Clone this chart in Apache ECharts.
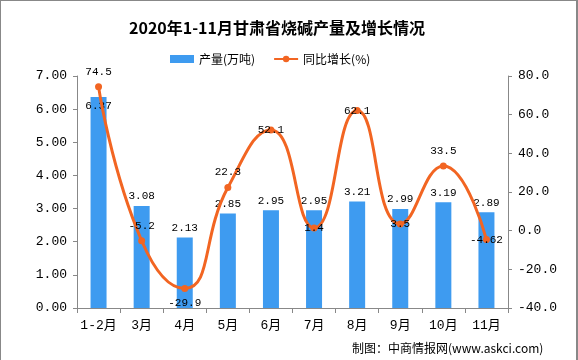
<!DOCTYPE html>
<html><head><meta charset="utf-8">
<script src="https://cdn.jsdelivr.net/npm/echarts@6/dist/echarts.min.js"></script>
<style>
html,body{margin:0;padding:0;background:#fff;}
#c{width:578px;height:360px;box-sizing:border-box;border-left:1px solid #888;border-top:1px solid #888;border-right:2px solid #888;}
</style></head>
<body><div id="c"></div>
<script>
const categories = ['1-2月','3月','4月','5月','6月','7月','8月','9月','10月','11月'];
const output = [6.37, 3.08, 2.13, 2.85, 2.95, 2.95, 3.21, 2.99, 3.19, 2.89];
const growth = [74.5, -5.2, -29.9, 22.3, 52.1, 1.4, 62.1, 3.5, 33.5, -4.62];
const growthLabelPos = ['top','top','bottom','top','inside','inside','inside','inside','top','inside'];
const outputLabelPos = ['insideTop','top','top','top','top','top','top','top','top','top'];

const mono = '"Liberation Mono", "Noto Sans CJK SC", monospace';
const chart = echarts.init(document.getElementById('c'));
chart.setOption({
  animation: false,
  title: {
    text: '2020年1-11月甘肃省烧碱产量及增长情况',
    left: 123, top: 14,
    textStyle: {fontFamily: '"Noto Sans CJK SC"', fontWeight: 'bold', fontSize: 16, color: '#000'}
  },
  legend: {
    top: 47, left: 164,
    itemGap: 18,
    itemWidth: 24, itemHeight: 8,
    textStyle: {fontFamily: '"Noto Sans CJK SC"', fontSize: 12, color: '#000'},
    data: [
      {name: '产量(万吨)', icon: 'rect'},
      {name: '同比增长(%)'}
    ]
  },
  grid: {left: 76, right: 68, top: 75, bottom: 52, containLabel: false},
  xAxis: {
    type: 'category', data: categories,
    axisLine: {lineStyle: {color: '#888'}},
    axisTick: {show: true, length: 5, lineStyle: {color: '#888'}},
    axisLabel: {color: '#000', fontSize: 13, fontFamily: mono, margin: 11, interval: 0}
  },
  yAxis: [
    {type: 'value', min: 0, max: 7, interval: 1,
     axisLine: {show: true, lineStyle: {color: '#888'}},
     axisTick: {show: true, length: 4, lineStyle: {color: '#888'}},
     splitLine: {show: false},
     axisLabel: {color: '#000', fontSize: 13, fontFamily: mono, margin: 10, formatter: v => v.toFixed(2)}},
    {type: 'value', min: -40, max: 80, interval: 20,
     axisLine: {show: true, lineStyle: {color: '#888'}},
     axisTick: {show: true, length: 4, lineStyle: {color: '#888'}},
     splitLine: {show: false},
     axisLabel: {color: '#000', fontSize: 13, fontFamily: mono, margin: 10, formatter: v => v.toFixed(1)}}
  ],
  series: [
    {name: '产量(万吨)', type: 'bar', barWidth: 16, yAxisIndex: 0,
     itemStyle: {color: '#3E9BF0'},
     data: output.map((v, i) => ({value: v, label: {position: outputLabelPos[i]}})),
     label: {show: true, color: '#000', fontSize: 11, fontFamily: mono, distance: 4, formatter: p => p.value.toFixed(2)}},
    {name: '同比增长(%)', type: 'line', yAxisIndex: 1, smooth: 0.5,
     symbol: 'circle', symbolSize: 7,
     itemStyle: {color: '#F26522'},
     lineStyle: {color: '#F26522', width: 3},
     data: growth.map((v, i) => ({value: v, label: {position: growthLabelPos[i]}})),
     label: {show: true, color: '#000', fontSize: 11, fontFamily: mono, distance: 6},
     z: 5}
  ],
  graphic: [
    {type: 'text', left: 351, top: 341,
     style: {text: '制图：中商情报网(www.askci.com)', fontFamily: '"Noto Sans CJK SC"', fontSize: 12, fill: '#000'}}
  ]
});
</script></body></html>
